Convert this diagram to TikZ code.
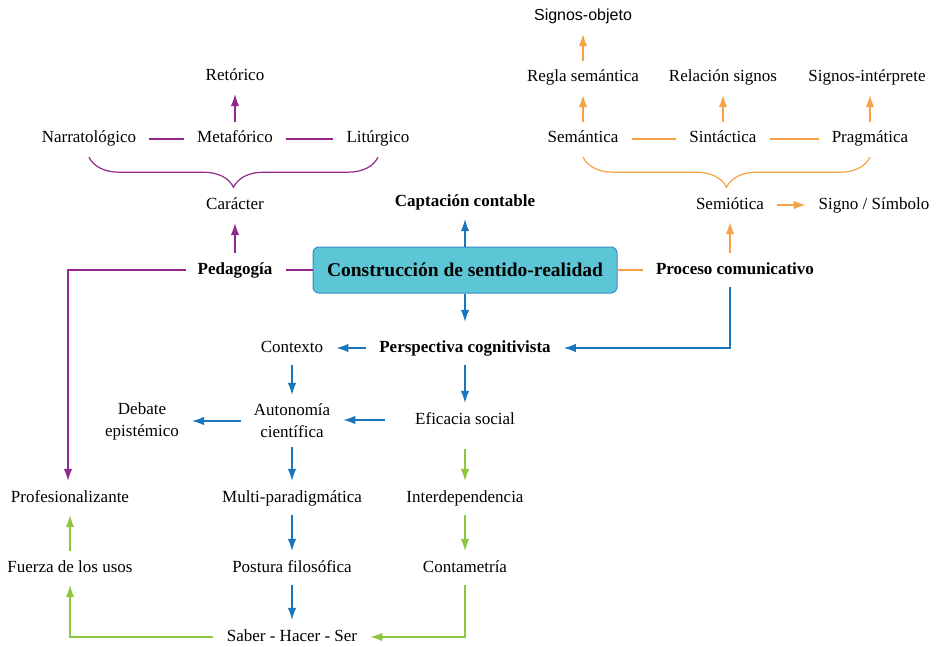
\documentclass[tikz,border=0pt]{standalone}
\usepackage{fontspec}
\setmainfont{Liberation Serif}
\newfontfamily\sansfuente{Liberation Sans}
\usetikzlibrary{arrows.meta,decorations.pathreplacing}
\definecolor{morado}{HTML}{92278F}
\definecolor{naranja}{HTML}{F7A246}
\definecolor{azul}{HTML}{1776BD}
\definecolor{verde}{HTML}{8DC63F}
\definecolor{celeste}{HTML}{5CC6D6}

\begin{document}
\begin{tikzpicture}[x=1pt, y=-1pt,
		base/.style={font=\fontsize{17}{22}\selectfont, inner xsep=5pt, inner ysep=5pt, align=center},
		txt/.style={base, text height=12pt, text depth=4pt},
		neg/.style={txt, font=\fontsize{17}{22}\selectfont\bfseries},
		sig/.style={txt, font=\sansfuente\fontsize{16}{20}\selectfont},
		centro/.style={draw=azul!85, fill=celeste, line width=1pt, rounded corners=6pt, minimum width=304pt, minimum height=46pt, font=\fontsize{19.5}{22}\selectfont\bfseries},
		flecha/.style={line width=1.2pt, -{Latex[length=12pt,width=8.5pt]}, shorten <=4pt, shorten >=4pt},
		linea/.style={line width=1.2pt, shorten <=8pt, shorten >=8pt},
		llave/.style={line width=1.2pt, decorate, decoration={brace, mirror, amplitude=30pt}}]
		\useasboundingbox (0, 0) rectangle (939, 647);

		\node [sig] (objeto) at (583, 17) {Signos-objeto};
		\node [txt] (regla) at (583, 78) {Regla semántica};
		\node [txt] (relacion) at (723, 78) {Relación signos};
		\node [txt] (interp) at (867, 78) {Signos-intérprete};
		\node [txt] (semantica) at (583, 139) {Semántica};
		\node [txt] (sintactica) at (723, 139) {Sintáctica};
		\node [txt] (pragmatica) at (870, 139) {Pragmática};
		\node [txt] (semiotica) at (730, 205) {Semiótica};
		\node [txt] (signo) at (874, 205) {Signo / Símbolo};
		\node [neg] (proceso) at (735, 270) {Proceso comunicativo};

		\node [txt] (retorico) at (235, 77) {Retórico};
		\node [txt] (narrat) at (89, 139) {Narratológico};
		\node [txt] (metaf) at (235, 139) {Metafórico};
		\node [txt] (liturg) at (378, 139) {Litúrgico};
		\node [txt] (caracter) at (235, 206) {Carácter};
		\node [neg] (pedagogia) at (235, 270) {Pedagogía};

		\node [neg] (captacion) at (465, 202) {Captación contable};
		\node [centro] (construccion) at (465, 270) {Construcción de sentido-realidad};
		\node [txt] (contexto) at (292, 348) {Contexto};
		\node [neg] (perspectiva) at (465, 348) {Perspectiva cognitivista};
		\node [base] (autonomia) at (292, 421) {Autonomía\\científica};
		\node [base] (debate) at (142, 421) {Debate\\epistémico};
		\node [txt] (eficacia) at (465, 420) {Eficacia social};
		\node [txt] (profesional) at (70, 498) {Profesionalizante};
		\node [txt] (multi) at (292, 498) {Multi-paradigmática};
		\node [txt] (interdep) at (465, 498) {Interdependencia};
		\node [txt] (fuerza) at (70, 568) {Fuerza de los usos};
		\node [txt] (postura) at (292, 568) {Postura filosófica};
		\node [txt] (contametria) at (465, 568) {Contametría};
		\node [txt] (saber) at (292, 637) {Saber - Hacer - Ser};

		\draw [flecha, naranja] (regla.north) -- (objeto.south);
		\draw [flecha, naranja] (semantica.north) -- (regla.south);
		\draw [flecha, naranja] (sintactica.north) -- (relacion.south);
		\draw [flecha, naranja] (pragmatica.north) -- (pragmatica.north |- interp.south);
		\draw [linea, naranja] (semantica.east) -- (sintactica.west);
		\draw [linea, naranja] (sintactica.east) -- (pragmatica.west);
		\draw [llave, naranja] ([yshift=-5pt]semantica.south) -- ([yshift=-5pt]pragmatica.south);
		\draw [flecha, naranja, shorten <=8pt, shorten >=8pt] (semiotica.east) -- (signo.west);
		\draw [flecha, naranja] (semiotica.south |- proceso.north) -- (semiotica.south);
		\draw [line width=1.2pt, naranja, shorten >=8pt] (construccion.east) -- (proceso.west);

		\draw [flecha, morado] (metaf.north) -- (retorico.south);
		\draw [linea, morado] (narrat.east) -- (metaf.west);
		\draw [linea, morado] (metaf.east) -- (liturg.west);
		\draw [llave, morado] ([yshift=-5pt]narrat.south) -- ([yshift=-5pt]liturg.south);
		\draw [flecha, morado] (pedagogia.north) -- (caracter.south);
		\draw [line width=1.2pt, morado, shorten <=8pt] (pedagogia.east) -- (construccion.west);
		\draw [flecha, morado, shorten <=6pt] (pedagogia.west) -| ([xshift=-2pt]profesional.north);

		\draw [flecha, azul, shorten <=0pt] (construccion.north) -- (captacion.south);
		\draw [flecha, azul, shorten <=0pt, shorten >=13pt] (construccion.south) -- (perspectiva.north);
		\draw [flecha, azul, shorten >=8pt] (semiotica.south |- proceso.south) |- (perspectiva.east);
		\draw [flecha, azul, shorten <=8pt, shorten >=8pt] (perspectiva.west) -- (contexto.east);
		\draw [flecha, azul] (contexto.south) -- (autonomia.north);
		\draw [flecha, azul] (perspectiva.south) -- (eficacia.north);
		\draw [flecha, azul, shorten <=25pt, shorten >=8pt] (eficacia.west) -- (eficacia.west -| autonomia.east);
		\draw [flecha, azul, shorten <=8pt, shorten >=8pt] (autonomia.west) -- (debate.east);
		\draw [flecha, azul] (autonomia.south) -- (multi.north);
		\draw [flecha, azul] (multi.south) -- (postura.north);
		\draw [flecha, azul] (postura.south) -- (saber.north);

		\draw [flecha, verde, shorten <=16pt] (eficacia.south) -- (interdep.north);
		\draw [flecha, verde] (interdep.south) -- (contametria.north);
		\draw [flecha, verde, shorten >=8pt] (contametria.south) |- (saber.east);
		\draw [flecha, verde, shorten <=9pt] (saber.west) -| (fuerza.south);
		\draw [flecha, verde] (fuerza.north) -- (profesional.south);
	\end{tikzpicture}
\end{document}
